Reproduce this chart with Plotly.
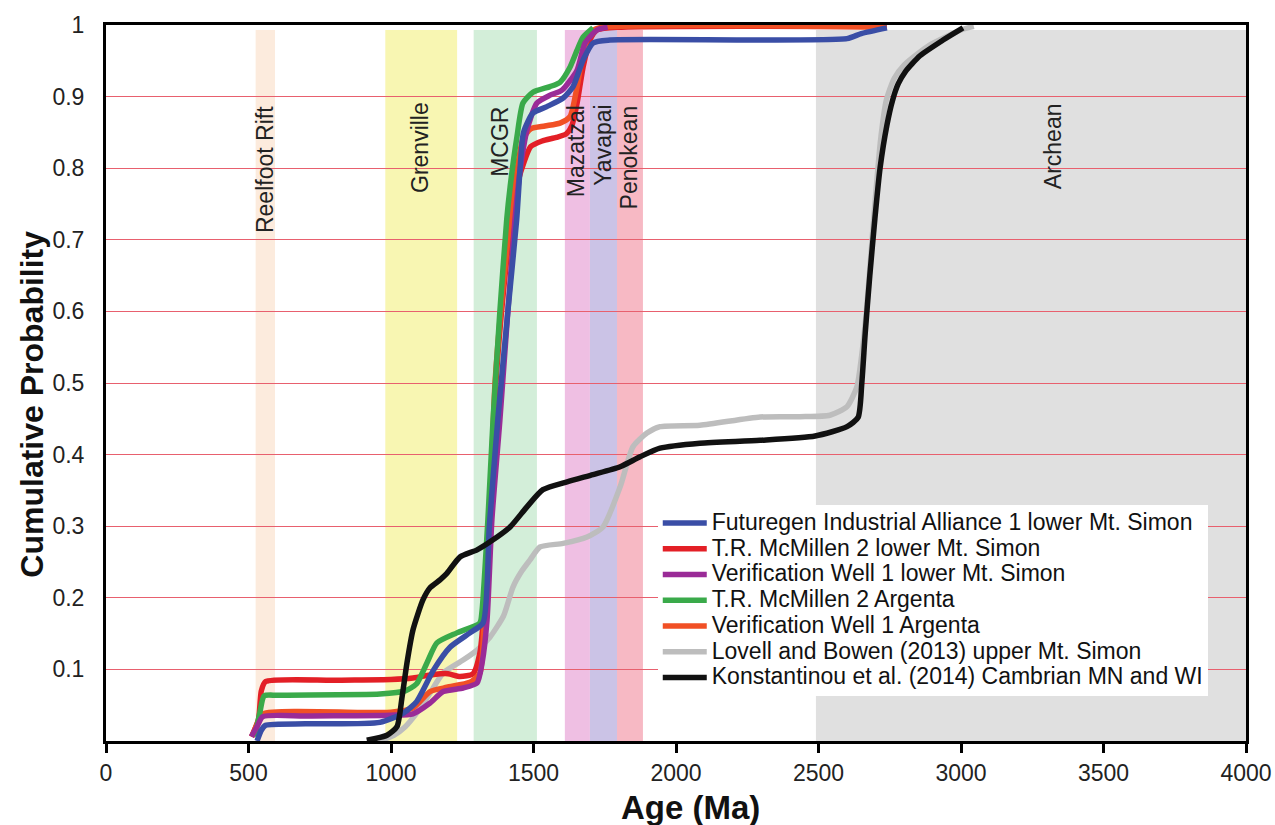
import plotly.graph_objects as go

# ---- Detrital zircon cumulative age distributions (Age in Ma, cumulative probability) ----
futuregen_age = [530, 545, 560, 700, 961, 1043, 1090, 1149, 1207, 1277, 1323, 1345, 1375, 1410,
                 1441, 1453, 1465, 1498, 1547, 1604, 1639, 1674, 1709, 1768, 2600, 2650, 2740]
futuregen_cp = [0.0, 0.015, 0.022, 0.024, 0.026, 0.039, 0.055, 0.099, 0.131, 0.151, 0.165, 0.30, 0.45, 0.60,
                0.728, 0.80, 0.85, 0.877, 0.886, 0.898, 0.914, 0.951, 0.975, 0.979, 0.981, 0.988, 0.996]

mcmillen_lower_age = [511, 535, 545, 560, 800, 1000, 1077, 1150, 1200, 1242, 1288, 1312, 1323, 1345, 1368,
                      1395, 1423, 1445, 1468, 1490, 1530, 1580, 1615, 1635, 1653, 1674, 1698, 1723, 1800, 2740]
mcmillen_lower_cp = [0.006, 0.03, 0.07, 0.083, 0.085, 0.086, 0.088, 0.093, 0.094, 0.090, 0.094, 0.123, 0.165, 0.30, 0.50,
                     0.63, 0.728, 0.78, 0.81, 0.83, 0.838, 0.843, 0.848, 0.86, 0.891, 0.941, 0.979, 0.993, 0.997, 0.998]

verif_lower_age = [510, 530, 550, 700, 1000, 1077, 1137, 1183, 1253, 1302, 1320, 1337, 1354, 1382, 1410,
                   1435, 1453, 1477, 1512, 1558, 1600, 1653, 1681, 1723, 1760]
verif_lower_cp = [0.006, 0.02, 0.034, 0.035, 0.036, 0.038, 0.053, 0.069, 0.074, 0.081, 0.11, 0.169, 0.309, 0.448, 0.60,
                  0.728, 0.797, 0.853, 0.891, 0.902, 0.909, 0.937, 0.975, 0.993, 0.997]

mcmillen_argenta_age = [523, 540, 555, 600, 961, 1050, 1090, 1126, 1161, 1231, 1312, 1319, 1340, 1358, 1382,
                        1406, 1418, 1442, 1463, 1498, 1558, 1593, 1628, 1653, 1674, 1709]
mcmillen_argenta_cp = [0.006, 0.04, 0.063, 0.064, 0.0656, 0.07, 0.08, 0.109, 0.137, 0.151, 0.165, 0.18, 0.309, 0.448, 0.60,
                       0.728, 0.774, 0.844, 0.891, 0.906, 0.914, 0.92, 0.941, 0.965, 0.983, 0.996]

verif_argenta_age = [512, 532, 552, 1000, 1077, 1137, 1196, 1277, 1312, 1325, 1345, 1365, 1392, 1418,
                     1440, 1462, 1490, 1540, 1593, 1628, 1653, 1674, 1698, 1730, 2740]
verif_argenta_cp = [0.006, 0.025, 0.038, 0.04, 0.046, 0.069, 0.075, 0.082, 0.095, 0.15, 0.30, 0.50, 0.63, 0.728,
                    0.79, 0.84, 0.855, 0.859, 0.863, 0.872, 0.914, 0.961, 0.989, 0.996, 0.997]

lovell_age = [960, 1010, 1050, 1090, 1137, 1183, 1253, 1302, 1347, 1395, 1428, 1460, 1488, 1523, 1604, 1688,
              1744, 1804, 1849, 1898, 1944, 2084, 2295, 2435, 2540, 2600, 2635, 2652, 2668, 2684, 2700,
              2718, 2738, 2765, 2800, 2890, 3000, 3045]
lovell_cp = [0.0, 0.008, 0.02, 0.039, 0.067, 0.095, 0.113, 0.127, 0.145, 0.175, 0.215, 0.238, 0.253, 0.271, 0.276, 0.285,
             0.299, 0.355, 0.411, 0.43, 0.439, 0.441, 0.4525, 0.453, 0.455, 0.467, 0.495, 0.54, 0.60, 0.68, 0.76,
             0.84, 0.895, 0.925, 0.944, 0.972, 0.993, 0.998]

konstantinou_age = [915, 986, 1021, 1039, 1056, 1077, 1112, 1137, 1172, 1196, 1242, 1302, 1358, 1418, 1477, 1533,
                    1618, 1709, 1804, 1874, 1944, 2084, 2295, 2488, 2600, 2639, 2652, 2664, 2680, 2698, 2716,
                    2740, 2760, 2780, 2805, 2856, 2937, 3007]
konstantinou_cp = [0.001, 0.008, 0.02, 0.062, 0.109, 0.155, 0.197, 0.214, 0.225, 0.234, 0.257, 0.267, 0.281, 0.299,
                   0.327, 0.351, 0.362, 0.372, 0.383, 0.397, 0.409, 0.416, 0.42, 0.426, 0.439, 0.452, 0.50, 0.57,
                   0.65, 0.73, 0.80, 0.86, 0.895, 0.918, 0.935, 0.957, 0.979, 0.996]

# ---- Basement age provinces (start Ma, end Ma) ----
province_names = ["Reelfoot Rift", "Grenville", "MCGR", "Mazatzal", "Yavapai", "Penokean", "Archean"]
province_start = [525, 980, 1290, 1610, 1698, 1793, 2491]
province_end = [593, 1232, 1512, 1698, 1793, 1884, 4000]
province_colors = ["#fcebdd", "#f8f6b2", "#d3eed9", "#efbfe3", "#cbc3e6", "#f7b9c4", "#e0e0e0"]
# label position: centre age and bottom of the rotated label (cumulative-probability units)
label_age = [558, 1102, 1382, 1650, 1744, 1836, 3323]
label_bottom = [0.706, 0.762, 0.785, 0.757, 0.772, 0.740, 0.768]

# ---- Series definitions ----
series = [
    # name, ages, cps, colour, legend rank
    ("Lovell and Bowen (2013) upper Mt. Simon", lovell_age, lovell_cp, "#bdbdbd", 6),
    ("T.R. McMillen 2 lower Mt. Simon", mcmillen_lower_age, mcmillen_lower_cp, "#e31f26", 2),
    ("Verification Well 1 Argenta", verif_argenta_age, verif_argenta_cp, "#f15025", 5),
    ("T.R. McMillen 2 Argenta", mcmillen_argenta_age, mcmillen_argenta_cp, "#3aaa4a", 4),
    ("Verification Well 1 lower Mt. Simon", verif_lower_age, verif_lower_cp, "#9a2b97", 3),
    ("Futuregen Industrial Alliance 1 lower Mt. Simon", futuregen_age, futuregen_cp, "#3a4ea6", 1),
    ("Konstantinou et al. (2014) Cambrian MN and WI", konstantinou_age, konstantinou_cp, "#111111", 7),
]

FONT = "Liberation Sans, Arial, Helvetica, sans-serif"

fig = go.Figure()
for name, ages, cps, color, rank in series:
    fig.add_trace(go.Scatter(
        x=ages, y=cps, mode="lines",
        name='<span style="font-size:23px">' + name + "</span>",
        line=dict(color=color, width=5.5, shape="spline", smoothing=0.6),
        legendrank=rank,
    ))

shapes = []
for start, end, col in zip(province_start, province_end, province_colors):
    shapes.append(dict(type="rect", xref="x", yref="y", x0=start, x1=end, y0=0, y1=0.993,
                       fillcolor=col, line=dict(width=0), layer="below"))

annotations = []
for name, xa, yb in zip(province_names, label_age, label_bottom):
    annotations.append(dict(x=xa, y=yb, xref="x", yref="y", text=name, textangle=-90,
                            showarrow=False, xanchor="center", yanchor="bottom",
                            font=dict(family=FONT, size=23, color="#222222")))

# axis titles
annotations.append(dict(x=0.513, y=-0.093, xref="paper", yref="paper", text="<b>Age (Ma)</b>",
                        showarrow=False, xanchor="center", yanchor="middle",
                        font=dict(family=FONT, size=33, color="#111111")))
annotations.append(dict(x=-0.065, y=0.471, xref="paper", yref="paper", text="<b>Cumulative Probability</b>",
                        textangle=-90, showarrow=False, xanchor="center", yanchor="middle",
                        font=dict(family=FONT, size=32, color="#111111")))

fig.update_layout(
    width=1275, height=825,
    margin=dict(l=106, r=29, t=25, b=84),
    paper_bgcolor="white", plot_bgcolor="white",
    font=dict(family=FONT, color="#222222"),
    shapes=shapes, annotations=annotations,
    showlegend=True,
    legend=dict(x=0.484, y=0.3295, xanchor="left", yanchor="top",
                bgcolor="white", borderwidth=0,
                font=dict(family=FONT, size=17.5, color="#111111"),
                tracegroupgap=0, itemwidth=44),
)

fig.update_xaxes(
    range=[0, 4000], tickvals=[0, 500, 1000, 1500, 2000, 2500, 3000, 3500, 4000],
    showgrid=False, zeroline=False, automargin=False,
    showline=True, linecolor="black", linewidth=3, mirror=True,
    ticks="outside", ticklen=9, tickwidth=3, tickcolor="black",
    tickfont=dict(family=FONT, size=23, color="#222222"),
)
fig.update_yaxes(
    range=[0, 1], tickvals=[0.1, 0.2, 0.3, 0.4, 0.5, 0.6, 0.7, 0.8, 0.9, 1.0],
    ticktext=["0.1", "0.2", "0.3", "0.4", "0.5", "0.6", "0.7", "0.8", "0.9", "1"],
    showgrid=True, gridcolor="#e8606e", gridwidth=1, zeroline=False, automargin=False,
    showline=True, linecolor="black", linewidth=3, mirror=True,
    ticks="", ticklabelstandoff=14,
    tickfont=dict(family=FONT, size=23, color="#222222"),
)

fig.write_html("out.html")
